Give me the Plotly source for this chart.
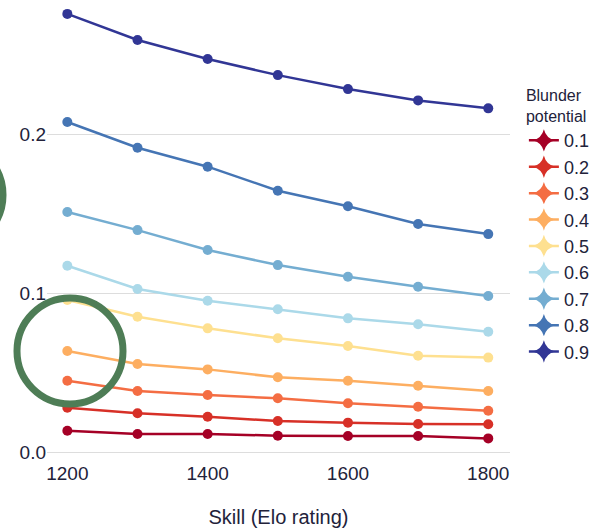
import plotly.graph_objects as go

# Skill levels (Elo rating) on the x axis
elo = [1200, 1300, 1400, 1500, 1600, 1700, 1800]

# Blunder potential levels and their series
potential_labels = ["0.1", "0.2", "0.3", "0.4", "0.5", "0.6", "0.7", "0.8", "0.9"]

bp_01 = [0.0138, 0.0118, 0.0118, 0.0107, 0.0105, 0.0105, 0.0090]
bp_02 = [0.0283, 0.0248, 0.0226, 0.0199, 0.0189, 0.0180, 0.0179]
bp_03 = [0.0453, 0.0388, 0.0363, 0.0342, 0.0311, 0.0289, 0.0264]
bp_04 = [0.0640, 0.0558, 0.0524, 0.0474, 0.0453, 0.0421, 0.0388]
bp_05 = [0.0960, 0.0855, 0.0782, 0.0720, 0.0671, 0.0610, 0.0598]
bp_06 = [0.1176, 0.1030, 0.0956, 0.0902, 0.0845, 0.0808, 0.0761]
bp_07 = [0.1514, 0.1400, 0.1275, 0.1180, 0.1107, 0.1044, 0.0986]
bp_08 = [0.2080, 0.1918, 0.1799, 0.1648, 0.1550, 0.1438, 0.1375]
bp_09 = [0.2760, 0.2596, 0.2476, 0.2375, 0.2287, 0.2216, 0.2166]

series = [bp_01, bp_02, bp_03, bp_04, bp_05, bp_06, bp_07, bp_08, bp_09]

colors = ["#a50026", "#d73027", "#f46d43", "#fdae61", "#fee090",
          "#abd9e9", "#74add1", "#4575b4", "#313695"]

y_ticks = [0.0, 0.1, 0.2]
y_tick_text = ["0.0", "0.1", "0.2"]
x_ticks = [1200, 1400, 1600, 1800]

text_color = "#22223a"
font_family = "Liberation Sans, Arial, sans-serif"

fig = go.Figure()

for label, values, color in zip(potential_labels, series, colors):
    fig.add_trace(go.Scatter(
        x=elo, y=values, mode="lines+markers",
        line=dict(color=color, width=2.5),
        marker=dict(color=color, size=10),
        showlegend=False, hoverinfo="skip",
    ))
    # legend entry drawn with a cross-like glyph
    fig.add_trace(go.Scatter(
        x=[None], y=[None], mode="lines+markers", name=label,
        line=dict(color=color, width=2.5),
        marker=dict(color=color, size=16, symbol="star-diamond"),
    ))

# plot area geometry (pixels) used for the highlight circles
W, H = 602, 530
ml, mr, mt, mb = 47, 92, 5, 70
pw, ph = W - ml - mr, H - mt - mb


def px_to_paper(px, py):
    return (px - ml) / pw, (H - mb - py) / ph


def circle(cx, cy, r):
    x0, y0 = px_to_paper(cx - r, cy + r)
    x1, y1 = px_to_paper(cx + r, cy - r)
    return dict(type="circle", xref="paper", yref="paper",
                x0=x0, y0=y0, x1=x1, y1=y1,
                line=dict(color="#4e7d56", width=7), layer="above")


fig.update_layout(
    width=W, height=H,
    margin=dict(l=ml, r=mr, t=mt, b=mb, pad=0),
    paper_bgcolor="white", plot_bgcolor="white",
    font=dict(family=font_family, color=text_color, size=19),
    xaxis=dict(
        range=[1171, 1831], tickvals=x_ticks, showgrid=False, zeroline=False,
        showline=False, ticks="", tickfont=dict(size=19),
        title=dict(text="Skill (Elo rating)", font=dict(size=20), standoff=26),
    ),
    yaxis=dict(
        range=[-0.0046, 0.2816], tickvals=y_ticks, ticktext=y_tick_text,
        showgrid=True, gridcolor="#dddddd", gridwidth=1, zeroline=False,
        showline=False, ticks="", tickfont=dict(size=19),
    ),
    legend=dict(
        title=dict(text="Blunder<br>potential", font=dict(size=16)),
        font=dict(size=18), x=1.03, xanchor="left", y=0.834, yanchor="top",
        itemsizing="trace", bgcolor="rgba(0,0,0,0)",
    ),
    shapes=[circle(70, 351, 53), circle(-50, 195, 53)],
)

fig.write_html("out.html")
